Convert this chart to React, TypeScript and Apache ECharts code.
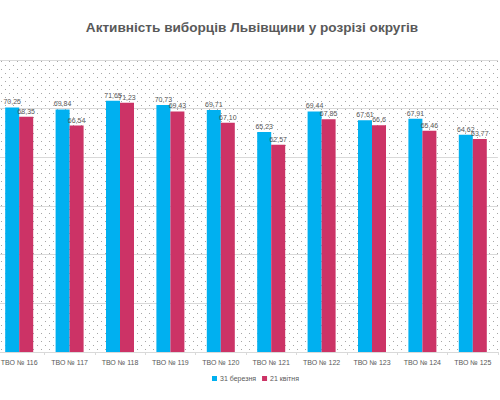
import React, { useEffect, useRef } from "react";
import * as echarts from "echarts";

const categories = [
  "ТВО № 116",
  "ТВО № 117",
  "ТВО № 118",
  "ТВО № 119",
  "ТВО № 120",
  "ТВО № 121",
  "ТВО № 122",
  "ТВО № 123",
  "ТВО № 124",
  "ТВО № 125",
];
const seriesNames = ["31 березня", "21 квітня"];
const march31 = ["70,25", "69,84", "71,65", "70,73", "69,71", "65,23", "69,44", "67,61", "67,91", "64,62"];
const april21 = ["68,35", "66,54", "71,23", "69,43", "67,10", "62,57", "67,85", "66,6", "65,46", "63,77"];
const yMin = 20;
const yMax = 80;
const yStep = 10;

const toNum = (s: string) => parseFloat(s.replace(",", "."));

const dotSvg =
  "url(\"data:image/svg+xml;utf8,<svg xmlns='http://www.w3.org/2000/svg' width='8' height='8'>" +
  "<rect x='1' y='1' width='1' height='1' fill='%23a6a6a6'/>" +
  "<rect x='5' y='5' width='1' height='1' fill='%23a6a6a6'/>" +
  "</svg>\")";

export default function App() {
  const ref = useRef<HTMLDivElement>(null);
  useEffect(() => {
    if (!ref.current) return;
    const chart = echarts.init(ref.current, undefined, { renderer: "svg" });
    const mkSeries = (name: string, arr: string[], color: string) => ({
      name,
      type: "bar",
      barWidth: 14,
      barGap: "0%",
      itemStyle: { color },
      data: arr.map((s) => ({ value: toNum(s), label: { formatter: s } })),
      label: {
        show: true,
        position: "top",
        distance: 2,
        fontSize: 7,
        color: "#595959",
        fontFamily: "Liberation Sans",
      },
    });
    chart.setOption({
      animation: false,
      title: {
        text: "Активність виборців Львівщини у розрізі округів",
        left: 253,
        textAlign: "center",
        top: 15,
        textStyle: {
          fontSize: 13.6,
          fontWeight: "bold",
          color: "#595959",
          fontFamily: "Liberation Sans",
        },
      },
      legend: {
        data: seriesNames,
        top: 375,
        left: 218,
        padding: 0,
        itemWidth: 5,
        itemHeight: 5,
        itemGap: 6,
        icon: "rect",
        textStyle: { fontSize: 7, color: "#595959", fontFamily: "Liberation Sans", padding: [0, 0, 0, -2] },
      },
      grid: { left: 0, right: 2, top: 60, bottom: 48, containLabel: false },
      xAxis: {
        type: "category",
        data: categories,
        axisLine: { show: true, lineStyle: { color: "#d9d9d9" } },
        axisTick: { show: true, length: 3, lineStyle: { color: "#d9d9d9" } },
        axisLabel: {
          fontSize: 7,
          color: "#595959",
          margin: 7,
          fontFamily: "Liberation Sans",
          interval: 0,
        },
      },
      yAxis: {
        type: "value",
        min: yMin,
        max: yMax,
        interval: yStep,
        axisLabel: { show: false },
        axisLine: { show: false },
        axisTick: { show: false },
        splitLine: { lineStyle: { color: "#d9d9d9", width: 1 } },
      },
      series: [
        mkSeries(seriesNames[0], march31, "#00B0F0"),
        mkSeries(seriesNames[1], april21, "#CC3366"),
      ],
    });
    return () => chart.dispose();
  }, []);
  return (
    <div style={{ position: "fixed", left: 0, top: 0, width: 500, height: 400, background: "#fff", overflow: "hidden" }}>
      <div
        style={{
          position: "absolute",
          left: 0,
          top: 60,
          width: 498,
          height: 292,
          backgroundImage: dotSvg,
          backgroundRepeat: "repeat",
        }}
      />
      <div ref={ref} style={{ position: "absolute", left: -6, top: 0, width: 506, height: 400 }} />
    </div>
  );
}
